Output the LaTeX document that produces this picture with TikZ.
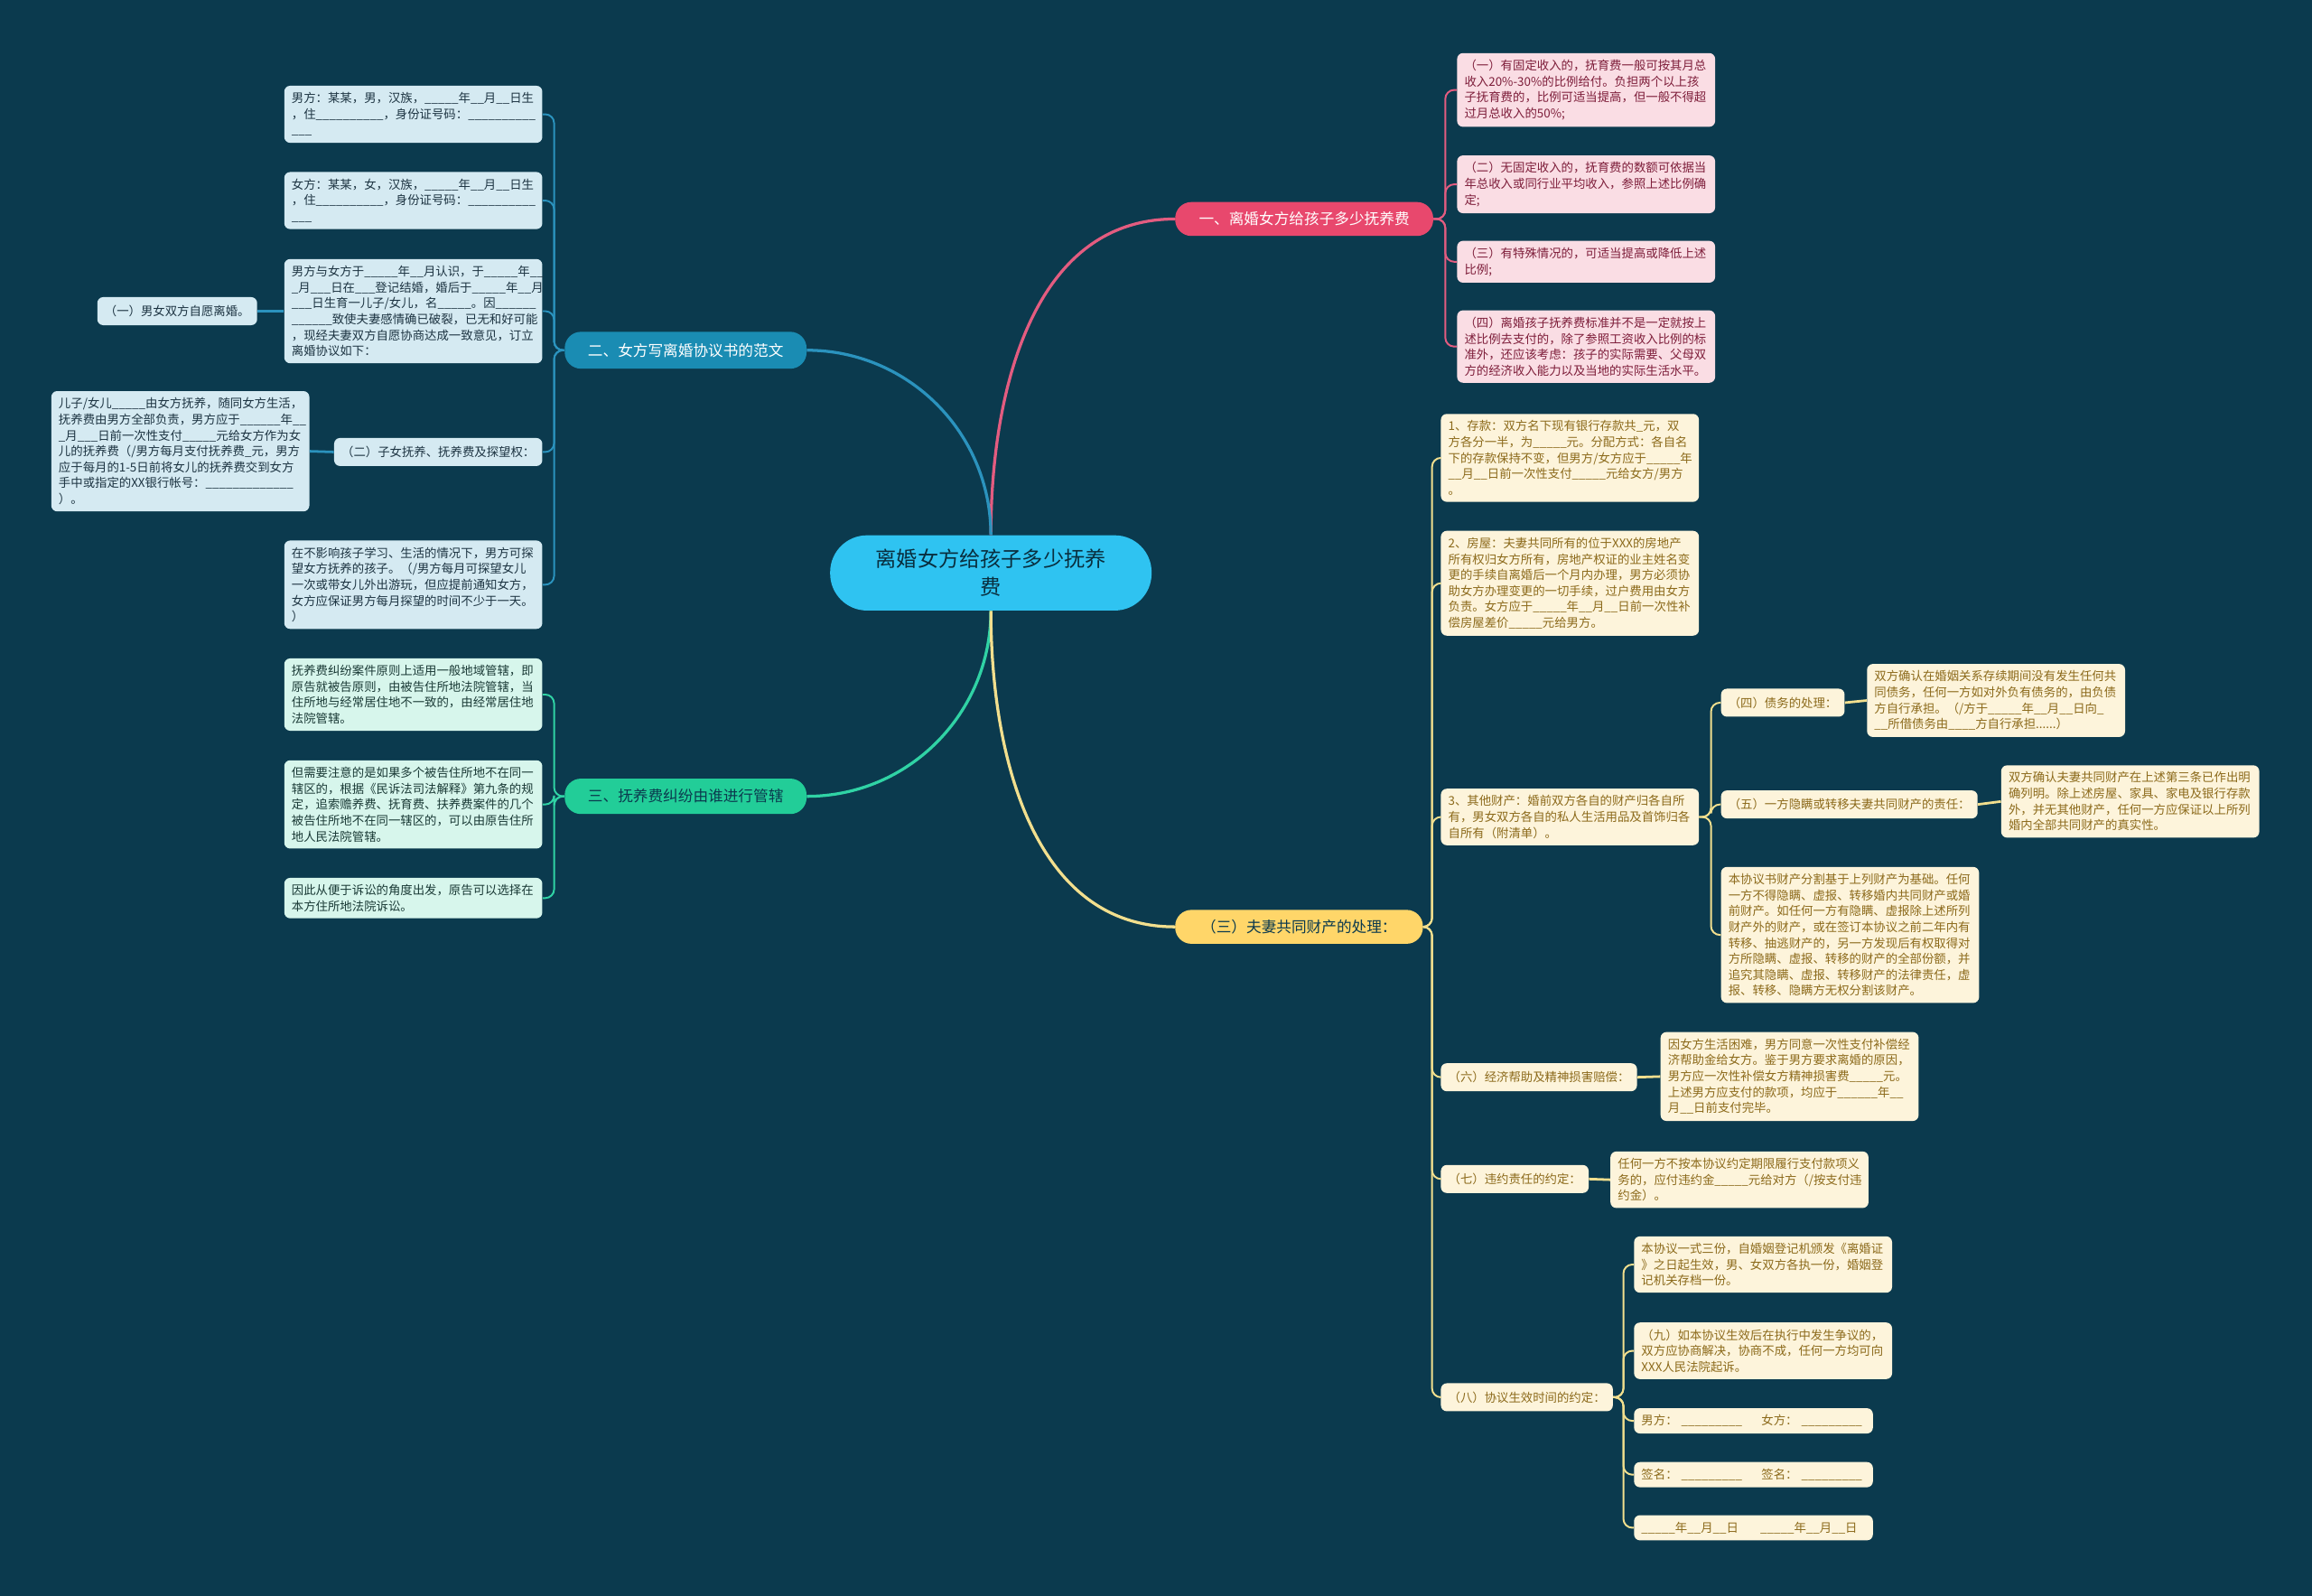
\documentclass[tikz,border=0pt]{standalone}
\usepackage{fontspec}
\setmainfont{Noto Sans CJK SC}
\usetikzlibrary{positioning}

\definecolor{deepsea}{HTML}{0B3A4E}
\definecolor{rootcyan}{HTML}{2FC3F1}
\definecolor{rosefill}{HTML}{E8486D}
\definecolor{roseline}{HTML}{E35C80}
\definecolor{roseleaf}{HTML}{FADDE4}
\definecolor{rosetext}{HTML}{7E1E3A}
\definecolor{seafill}{HTML}{1A8CB3}
\definecolor{sealine}{HTML}{2B93BE}
\definecolor{sealeaf}{HTML}{D5EAF2}
\definecolor{seatext}{HTML}{1D3442}
\definecolor{mintfill}{HTML}{22CD98}
\definecolor{mintline}{HTML}{30D3A5}
\definecolor{mintleaf}{HTML}{D7F6EC}
\definecolor{minttext}{HTML}{1A3A36}
\definecolor{sandfill}{HTML}{FFD669}
\definecolor{sandline}{HTML}{F2DF8E}
\definecolor{sandleaf}{HTML}{FDF4DB}
\definecolor{sandtext}{HTML}{8C6A1B}

\newcommand{\leaffont}{\fontsize{8.2}{10.8}\selectfont}

\tikzset{
  root/.style={
    rectangle,
    rounded corners=25pt,
    fill=rootcyan, text=deepsea!80!black,
    minimum width=218pt,
    minimum height=51pt,
    align=center,
    font=\fontsize{14.2}{19}\selectfont},
  branch/.style={
    rectangle,
    rounded corners=11pt,
    minimum height=23pt,
    inner xsep=6pt,
    font=\fontsize{10.2}{12}\selectfont},
  leaf/.style={
    rectangle,
    rounded corners=4pt,
    inner xsep=5pt, inner ysep=4.5pt,
    text width=165pt,
    align=left,
    font=\leaffont},
  tag/.style={
    rectangle,
    rounded corners=4pt,
    inner xsep=5pt, inner ysep=4pt,
    minimum height=19pt,
    font=\leaffont},
  roseleafbox/.style={leaf, fill=roseleaf, text=rosetext},
  sealeafbox/.style={leaf, fill=sealeaf, text=seatext},
  sealtag/.style={tag, fill=sealeaf, text=seatext},
  mintleafbox/.style={leaf, fill=mintleaf, text=minttext},
  sandleafbox/.style={leaf, fill=sandleaf, text=sandtext},
  sandtag/.style={tag, fill=sandleaf, text=sandtext},
  stem/.style={draw, line width=2pt},
  twig/.style={draw, line width=1.2pt, rounded corners=6pt},
  bond/.style={draw, line width=1.7pt},
}

\begin{document}
\catcode`\_=12
\begin{tikzpicture}[x=1pt,y=-1pt]
  \fill[deepsea] (0,0) rectangle (1568,1082);

  % centre and main branches
  \node[root] (root) at (672,388.5) {离婚女方给孩子多少抚养\\费};
  \node[branch, fill=rosefill, text=white, minimum width=175pt] (one) at (884.5,148.5) {一、离婚女方给孩子多少抚养费};
  \node[branch, fill=seafill, text=white, minimum width=164pt, minimum height=25pt] (two) at (465,237.5) {二、女方写离婚协议书的范文};
  \node[branch, fill=mintfill, text=deepsea, minimum width=164pt, minimum height=24pt] (three) at (465,540) {三、抚养费纠纷由谁进行管辖};
  \node[branch, fill=sandfill, text=deepsea, minimum width=168pt] (prop) at (881,628.5) {（三）夫妻共同财产的处理：};

  \draw[stem, roseline] (root.north) to[out=90, in=180] (one.west);
  \draw[stem, sealine] (root.north) to[out=90, in=0] (two.east);
  \draw[stem, mintline] (root.south) to[out=-90, in=0] (three.east);
  \draw[stem, sandline] (root.south) to[out=-90, in=180] (prop.west);

  % branch one
  \node[roseleafbox, anchor=west] (p1) at (988,61) {（一）有固定收入的，抚育费一般可按其月总\\收入20\%-30\%的比例给付。负担两个以上孩\\子抚育费的，比例可适当提高，但一般不得超\\过月总收入的50\%;};
  \node[roseleafbox, anchor=west] (p2) at (988,125) {（二）无固定收入的，抚育费的数额可依据当\\年总收入或同行业平均收入，参照上述比例确\\定;};
  \node[roseleafbox, anchor=west] (p3) at (988,177.5) {（三）有特殊情况的，可适当提高或降低上述\\比例;};
  \node[roseleafbox, anchor=west] (p4) at (988,235) {（四）离婚孩子抚养费标准并不是一定就按上\\述比例去支付的，除了参照工资收入比例的标\\准外，还应该考虑：孩子的实际需要、父母双\\方的经济收入能力以及当地的实际生活水平。};

  \draw[twig, roseline] (one.east) -- ++(8,0) |- (p1.west);
  \draw[twig, roseline] (one.east) -- ++(8,0) |- (p2.west);
  \draw[twig, roseline] (one.east) -- ++(8,0) |- (p3.west);
  \draw[twig, roseline] (one.east) -- ++(8,0) |- (p4.west);

  % branch two
  \node[sealeafbox, anchor=east] (b1) at (368,77.5) {男方：某某，男，汉族，_____年__月__日生\\，住__________，身份证号码：__________\\___};
  \node[sealeafbox, anchor=east] (b2) at (368,136) {女方：某某，女，汉族，_____年__月__日生\\，住__________，身份证号码：__________\\___};
  \node[sealeafbox, anchor=east] (b3) at (368,211) {男方与女方于_____年__月认识，于_____年__\\_月___日在___登记结婚，婚后于_____年__月\\___日生育一儿子/女儿，名_____。因______\\______致使夫妻感情确已破裂，已无和好可能\\，现经夫妻双方自愿协商达成一致意见，订立\\离婚协议如下：};
  \node[sealtag, left=18pt of b3] (b3a) {（一）男女双方自愿离婚。};
  \node[sealtag, anchor=east] (b4) at (368,306.5) {（二）子女抚养、抚养费及探望权：};
  \node[sealeafbox, anchor=east] (b4a) at (210,306) {儿子/女儿_____由女方抚养，随同女方生活，\\抚养费由男方全部负责，男方应于______年__\\_月___日前一次性支付_____元给女方作为女\\儿的抚养费（/男方每月支付抚养费_元，男方\\应于每月的1-5日前将女儿的抚养费交到女方\\手中或指定的XX银行帐号：_____________\\）。};
  \node[sealeafbox, anchor=east] (b5) at (368,396.5) {在不影响孩子学习、生活的情况下，男方可探\\望女方抚养的孩子。（/男方每月可探望女儿\\一次或带女儿外出游玩，但应提前通知女方，\\女方应保证男方每月探望的时间不少于一天。\\）};

  \draw[twig, sealine] (two.west) -- ++(-7,0) |- (b1.east);
  \draw[twig, sealine] (two.west) -- ++(-7,0) |- (b2.east);
  \draw[twig, sealine] (two.west) -- ++(-7,0) |- (b3.east);
  \draw[twig, sealine] (two.west) -- ++(-7,0) |- (b4.east);
  \draw[twig, sealine] (two.west) -- ++(-7,0) |- (b5.east);
  \draw[bond, sealine] (b3.west) -- (b3a.east);
  \draw[bond, sealine] (b4.west) -- (b4a.east);

  % branch three
  \node[mintleafbox, anchor=east] (g1) at (368,471) {抚养费纠纷案件原则上适用一般地域管辖，即\\原告就被告原则，由被告住所地法院管辖，当\\住所地与经常居住地不一致的，由经常居住地\\法院管辖。};
  \node[mintleafbox, anchor=east] (g2) at (368,545.5) {但需要注意的是如果多个被告住所地不在同一\\辖区的，根据《民诉法司法解释》第九条的规\\定，追索赡养费、抚育费、扶养费案件的几个\\被告住所地不在同一辖区的，可以由原告住所\\地人民法院管辖。};
  \node[mintleafbox, anchor=east] (g3) at (368,609) {因此从便于诉讼的角度出发，原告可以选择在\\本方住所地法院诉讼。};

  \draw[twig, mintline] (three.west) -- ++(-7,0) |- (g1.east);
  \draw[twig, mintline] (three.west) -- ++(-7,0) |- (g2.east);
  \draw[twig, mintline] (three.west) -- ++(-7,0) |- (g3.east);

  % shared property
  \node[sandleafbox, anchor=west] (y1) at (977,310.5) {1、存款：双方名下现有银行存款共_元，双\\方各分一半，为_____元。分配方式：各自名\\下的存款保持不变，但男方/女方应于_____年\\__月__日前一次性支付_____元给女方/男方\\。};
  \node[sandleafbox, anchor=west] (y2) at (977,395.5) {2、房屋：夫妻共同所有的位于XXX的房地产\\所有权归女方所有，房地产权证的业主姓名变\\更的手续自离婚后一个月内办理，男方必须协\\助女方办理变更的一切手续，过户费用由女方\\负责。女方应于_____年__月__日前一次性补\\偿房屋差价_____元给男方。};
  \node[sandleafbox, anchor=west] (y3) at (977,554) {3、其他财产：婚前双方各自的财产归各自所\\有，男女双方各自的私人生活用品及首饰归各\\自所有（附清单）。};
  \node[sandtag, anchor=west] (y3a) at (1167,476.5) {（四）债务的处理：};
  \node[sandleafbox, anchor=west] (y3a1) at (1266,475) {双方确认在婚姻关系存续期间没有发生任何共\\同债务，任何一方如对外负有债务的，由负债\\方自行承担。（/方于_____年__月__日向_\\__所借债务由____方自行承担......）};
  \node[sandtag, anchor=west] (y3b) at (1167,545.5) {（五）一方隐瞒或转移夫妻共同财产的责任：};
  \node[sandleafbox, anchor=west] (y3b1) at (1357,543.5) {双方确认夫妻共同财产在上述第三条已作出明\\确列明。除上述房屋、家具、家电及银行存款\\外，并无其他财产，任何一方应保证以上所列\\婚内全部共同财产的真实性。};
  \node[sandleafbox, anchor=west] (y3c) at (1167,634) {本协议书财产分割基于上列财产为基础。任何\\一方不得隐瞒、虚报、转移婚内共同财产或婚\\前财产。如任何一方有隐瞒、虚报除上述所列\\财产外的财产，或在签订本协议之前二年内有\\转移、抽逃财产的，另一方发现后有权取得对\\方所隐瞒、虚报、转移的财产的全部份额，并\\追究其隐瞒、虚报、转移财产的法律责任，虚\\报、转移、隐瞒方无权分割该财产。};
  \node[sandtag, anchor=west] (y4) at (977,730.5) {（六）经济帮助及精神损害赔偿：};
  \node[sandleafbox, anchor=west] (y4a) at (1126,730) {因女方生活困难，男方同意一次性支付补偿经\\济帮助金给女方。鉴于男方要求离婚的原因，\\男方应一次性补偿女方精神损害费_____元。\\上述男方应支付的款项，均应于______年__\\月__日前支付完毕。};
  \node[sandtag, anchor=west] (y5) at (977,799.5) {（七）违约责任的约定：};
  \node[sandleafbox, anchor=west] (y5a) at (1092,800) {任何一方不按本协议约定期限履行支付款项义\\务的，应付违约金_____元给对方（/按支付违\\约金）。};
  \node[sandtag, anchor=west] (y6) at (977,947.5) {（八）协议生效时间的约定：};
  \node[sandleafbox, anchor=west] (y6a) at (1108,857.5) {本协议一式三份，自婚姻登记机颁发《离婚证\\》之日起生效，男、女双方各执一份，婚姻登\\记机关存档一份。};
  \node[sandleafbox, anchor=west] (y6b) at (1108,916) {（九）如本协议生效后在执行中发生争议的，\\双方应协商解决，协商不成，任何一方均可向\\XXX人民法院起诉。};
  \node[sandleafbox, text width=152pt, anchor=west] (y6c) at (1108,963.5) {男方：\hspace*{0.3em}_________\hspace*{1.6em}女方：\hspace*{0.3em}_________};
  \node[sandleafbox, text width=152pt, anchor=west] (y6d) at (1108,1000) {签名：\hspace*{0.3em}_________\hspace*{1.6em}签名：\hspace*{0.3em}_________};
  \node[sandleafbox, text width=152pt, anchor=west] (y6e) at (1108,1036) {_____年__月__日\hspace*{1.8em}_____年__月__日};

  \draw[twig, sandline] (prop.east) -- ++(6,0) |- (y1.west);
  \draw[twig, sandline] (prop.east) -- ++(6,0) |- (y2.west);
  \draw[twig, sandline] (prop.east) -- ++(6,0) |- (y3.west);
  \draw[twig, sandline] (prop.east) -- ++(6,0) |- (y4.west);
  \draw[twig, sandline] (prop.east) -- ++(6,0) |- (y5.west);
  \draw[twig, sandline] (prop.east) -- ++(6,0) |- (y6.west);
  \draw[twig, sandline] (y3.east) -- ++(8,0) |- (y3a.west);
  \draw[twig, sandline] (y3.east) -- ++(8,0) |- (y3b.west);
  \draw[twig, sandline] (y3.east) -- ++(8,0) |- (y3c.west);
  \draw[bond, sandline] (y3a.east) -- (y3a1.west);
  \draw[bond, sandline] (y3b.east) -- (y3b1.west);
  \draw[bond, sandline] (y4.east) -- (y4a.west);
  \draw[bond, sandline] (y5.east) -- (y5a.west);
  \draw[twig, sandline] (y6.east) -- ++(7,0) |- (y6a.west);
  \draw[twig, sandline] (y6.east) -- ++(7,0) |- (y6b.west);
  \draw[twig, sandline] (y6.east) -- ++(7,0) |- (y6c.west);
  \draw[twig, sandline] (y6.east) -- ++(7,0) |- (y6d.west);
  \draw[twig, sandline] (y6.east) -- ++(7,0) |- (y6e.west);
\end{tikzpicture}
\end{document}
